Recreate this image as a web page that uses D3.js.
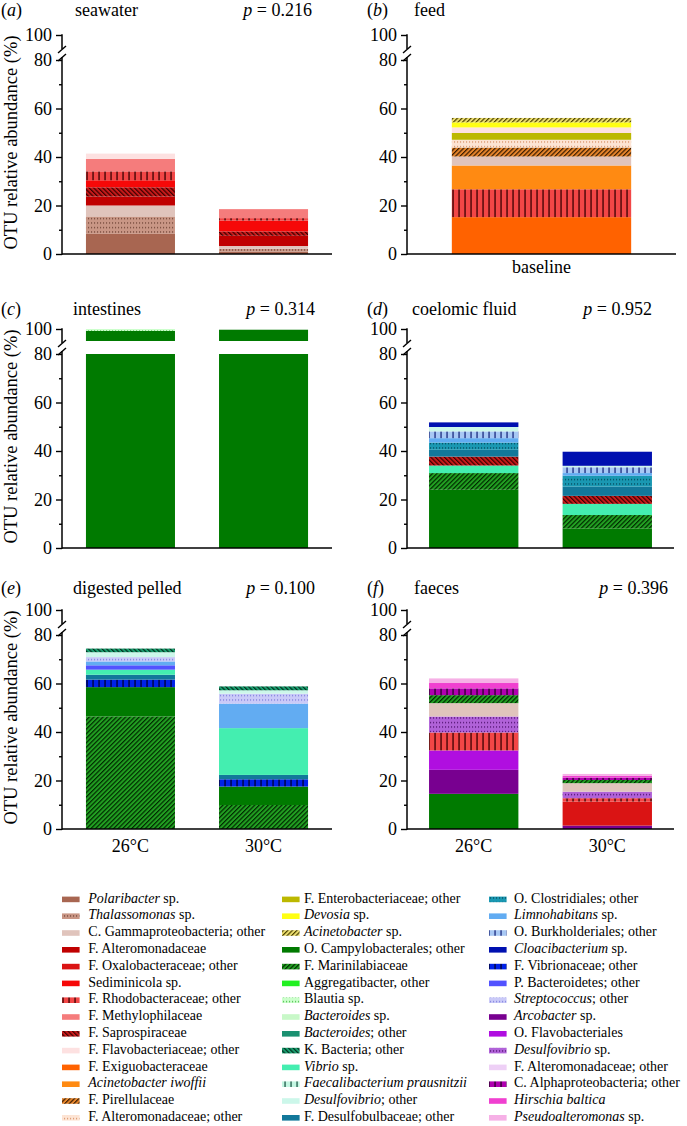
<!DOCTYPE html>
<html><head><meta charset="utf-8">
<script src="https://cdn.jsdelivr.net/npm/d3@7"></script>
<style>
body{margin:0;background:#fff}
svg{display:block}
svg text{font-family:"Liberation Serif","Times New Roman",serif;fill:#000}
</style>
</head><body>
<svg id="c" width="687" height="1126" style="font-family:'Liberation Serif',serif"></svg>
<script>
// ---------------- DATA ----------------
const legendTaxa = [
  "*Polaribacter* sp.", "*Thalassomonas* sp.", "C. Gammaproteobacteria; other", "F. Alteromonadaceae",
  "F. Oxalobacteraceae; other", "Sediminicola sp.", "F. Rhodobacteraceae; other", "F. Methylophilaceae",
  "F. Saprospiraceae", "F. Flavobacteriaceae; other", "F. Exiguobacteraceae", "*Acinetobacter iwoffii*",
  "F. Pirellulaceae", "F. Alteromonadaceae; other",
  "F. Enterobacteriaceae; other", "*Devosia* sp.", "*Acinetobacter* sp.", "O. Campylobacterales; other",
  "F. Marinilabiaceae", "Aggregatibacter, other", "Blautia sp.", "*Bacteroides* sp.",
  "*Bacteroides*; other", "K. Bacteria; other", "*Vibrio* sp.", "*Faecalibacterium prausnitzii*",
  "*Desulfovibrio*; other", "F. Desulfobulbaceae; other",
  "O. Clostridiales; other", "*Limnohabitans* sp.", "O. Burkholderiales; other", "*Cloacibacterium* sp.",
  "F. Vibrionaceae; other", "P. Bacteroidetes; other", "*Streptococcus*; other", "*Arcobacter* sp.",
  "O. Flavobacteriales", "*Desulfovibrio* sp.", "F. Alteromonadaceae; other", "C. Alphaproteobacteria; other",
  "*Hirschia baltica*", "*Pseudoalteromonas* sp."
];

const panelLetters = ["a", "b", "c", "d", "e", "f"];
const panelTitles = ["seawater", "feed", "intestines", "coelomic fluid", "digested pelled", "faeces"];
const pValues = ["0.216", null, "0.314", "0.952", "0.100", "0.396"];
const tempCategories = ["26°C", "30°C"];
const feedCategories = ["baseline"];
const majorTicks = [0, 20, 40, 60, 80];
const minorTicks = [10, 30, 50, 70];
const topTicks = [100];
const yAxisTitle = "OTU relative abundance (%)";

// stacks, bottom -> top
const seawaterTaxa = ["Polaribacter sp.", "Thalassomonas sp.", "C. Gammaproteobacteria; other", "F. Alteromonadaceae",
  "F. Saprospiraceae", "Sediminicola sp.", "F. Rhodobacteraceae; other", "F. Methylophilaceae", "F. Flavobacteriaceae; other"];
const seawater26 = [8.3, 7.2, 4.5, 3.7, 3.8, 2.9, 3.7, 5.1, 2.2];
const seawater30 = [1.0, 1.2, 1.1, 4.2, 1.8, 4.5, 1.0, 3.7, 0.0];

const feedTaxa = ["F. Exiguobacteraceae", "F. Rhodobacteraceae; other", "Acinetobacter iwoffii", "C. Gammaproteobacteria; other",
  "F. Pirellulaceae", "F. Alteromonadaceae; other", "F. Enterobacteriaceae; other", "F. Flavobacteriaceae; other",
  "Devosia sp.", "Acinetobacter sp."];
const feedBaseline = [15.2, 11.5, 9.8, 3.7, 3.7, 3.2, 2.8, 2.3, 2.1, 1.8];

const intestinesTaxa = ["O. Campylobacterales; other", "Blautia sp."];
const intestines26 = [99.2, 0.8];
const intestines30 = [99.7, 0.0];

const coelomicTaxa = ["O. Campylobacterales; other", "F. Marinilabiaceae", "Vibrio sp.", "F. Saprospiraceae",
  "F. Desulfobulbaceae; other", "O. Clostridiales; other", "Limnohabitans sp.", "O. Burkholderiales; other",
  "Desulfovibrio; other", "Cloacibacterium sp."];
const coelomic26 = [24.0, 6.9, 3.1, 3.7, 2.8, 3.0, 1.8, 2.8, 1.8, 1.9];
const coelomic30 = [8.1, 5.5, 4.6, 3.3, 3.8, 4.5, 1.1, 2.4, 0.6, 5.8];

const digestedTaxa = ["F. Marinilabiaceae", "O. Campylobacterales; other", "F. Vibrionaceae; other", "F. Desulfobulbaceae; other",
  "Vibrio sp.", "P. Bacteroidetes; other", "Limnohabitans sp.", "Streptococcus; other", "Desulfovibrio; other", "K. Bacteria; other"];
const digested26 = [46.4, 12.1, 3.1, 2.0, 2.1, 1.8, 1.6, 1.8, 2.0, 1.5];
const digested30 = [9.9, 7.6, 3.0, 1.8, 19.3, 0.0, 10.1, 4.1, 1.4, 1.6];

const faecesTaxa = ["O. Campylobacterales; other", "Arcobacter sp.", "F. Oxalobacteraceae; other", "O. Flavobacteriales",
  "F. Rhodobacteraceae; other", "Desulfovibrio sp.", "C. Gammaproteobacteria; other", "F. Marinilabiaceae",
  "C. Alphaproteobacteria; other", "Hirschia baltica", "Pseudoalteromonas sp."];
const faeces26 = [14.5, 9.9, 0.0, 8.0, 7.4, 6.6, 5.5, 3.3, 2.8, 2.2, 1.9];
const faeces30 = [0.0, 1.4, 9.9, 0.0, 1.4, 2.7, 3.5, 1.3, 1.0, 0.7, 0.8];

// ---------------- STYLES (parallel to legendTaxa) ----------------
const taxonStyles = [
  {bg:"#a86651"}, {bg:"#c99685", pat:"dots", ink:"#5e3426"}, {bg:"#e0c4bc"}, {bg:"#c00000"},
  {bg:"#da1414"}, {bg:"#f60808"}, {bg:"#f24646", pat:"vlines", ink:"#3a0000"}, {bg:"#f57c7c"},
  {bg:"#c81a1a", pat:"back", ink:"#3a0000"}, {bg:"#fde1e1"}, {bg:"#ff6200"}, {bg:"#ff8a12"},
  {bg:"#e8862c", pat:"fwd", ink:"#3a1c00"}, {bg:"#fde4d4", pat:"dots", ink:"#d08050"},
  {bg:"#bcb800"}, {bg:"#ffff14"}, {bg:"#eee070", pat:"fwd", ink:"#4a4000"}, {bg:"#007a00"},
  {bg:"#22a022", pat:"fwd", ink:"#002a00"}, {bg:"#22f022"}, {bg:"#ccffcc", pat:"dots", ink:"#30b030"}, {bg:"#c8f8c8"},
  {bg:"#1a9070"}, {bg:"#1aa070", pat:"back", ink:"#00301e"}, {bg:"#44eeb0"}, {bg:"#c4f6e2", pat:"vlines", ink:"#1e5a48"},
  {bg:"#ccf7ea"}, {bg:"#12789a"},
  {bg:"#1a98b2", pat:"dots", ink:"#00384a"}, {bg:"#62acf2"}, {bg:"#a8c8f4", pat:"vlines", ink:"#1a2a80"}, {bg:"#0010b0"},
  {bg:"#0022e8", pat:"vlines", ink:"#000030"}, {bg:"#5252ff"}, {bg:"#cacaf8", pat:"dots", ink:"#7070d8"}, {bg:"#780090"},
  {bg:"#b00ee0"}, {bg:"#b062d8", pat:"dots", ink:"#3a0058"}, {bg:"#eed0f6"}, {bg:"#b000b0", pat:"vlines", ink:"#2a002a"},
  {bg:"#f040d0"}, {bg:"#f6b0e6"}
];

// ---------------- LAYOUT ----------------
const SERIF = "Liberation Serif";
const svg = d3.select("#c");
const defs = svg.append("defs");
const plain = s => s.replace(/\*/g, "");
const plainLabels = legendTaxa.map(plain);
const idxOf = name => plainLabels.indexOf(name);
const txt = (parent) => parent.append("text").attr("font-family", SERIF).style("font-family", "'Liberation Serif', serif");

taxonStyles.forEach((s, i) => {
  if (!s.pat) return;
  let p;
  if (s.pat === "dots") {
    p = defs.append("pattern").attr("id", "pat" + i).attr("patternUnits", "userSpaceOnUse")
      .attr("width", 3).attr("height", 4.5);
    p.append("rect").attr("width", 3).attr("height", 4.5).attr("fill", s.bg);
    p.append("rect").attr("x", 1).attr("y", 2).attr("width", 1.1).attr("height", 1.1).attr("fill", s.ink);
  } else if (s.pat === "vlines") {
    p = defs.append("pattern").attr("id", "pat" + i).attr("patternUnits", "userSpaceOnUse")
      .attr("width", 6).attr("height", 10);
    p.append("rect").attr("width", 6).attr("height", 10).attr("fill", s.bg);
    p.append("rect").attr("x", 2.4).attr("y", 0).attr("width", 1.3).attr("height", 10).attr("fill", s.ink);
  } else {
    p = defs.append("pattern").attr("id", "pat" + i).attr("patternUnits", "userSpaceOnUse")
      .attr("width", 3.2).attr("height", 10)
      .attr("patternTransform", s.pat === "fwd" ? "rotate(45)" : "rotate(-45)");
    p.append("rect").attr("width", 3.2).attr("height", 10).attr("fill", s.bg);
    p.append("rect").attr("x", 0).attr("y", 0).attr("width", 1.2).attr("height", 10).attr("fill", s.ink);
  }
});
const fillOf = i => taxonStyles[i].pat ? `url(#pat${i})` : taxonStyles[i].bg;

const panels = [
  {taxa: seawaterTaxa, values: [seawater26, seawater30], cats: tempCategories, ax: 62, xEnd: 332, y0: 254,
   pInner: 0.331, pOuter: 0.18, showCats: false, yTitle: true, titleY: 15.5, letterX: 1, titleX: 75, pX: 312},
  {taxa: feedTaxa, values: [feedBaseline], cats: feedCategories, ax: 407, xEnd: 676, y0: 254,
   pInner: 0, pOuter: 0.25, showCats: true, catDy: 19, yTitle: false, titleY: 15.5, letterX: 367, titleX: 414, pX: null},
  {taxa: intestinesTaxa, values: [intestines26, intestines30], cats: tempCategories, ax: 62, xEnd: 332, y0: 548,
   pInner: 0.331, pOuter: 0.18, showCats: false, yTitle: true, titleY: 315, letterX: 1, titleX: 73, pX: 315},
  {taxa: coelomicTaxa, values: [coelomic26, coelomic30], cats: tempCategories, ax: 407, xEnd: 674, y0: 548,
   pInner: 0.331, pOuter: 0.165, showCats: false, yTitle: false, titleY: 315, letterX: 367, titleX: 412, pX: 652},
  {taxa: digestedTaxa, values: [digested26, digested30], cats: tempCategories, ax: 62, xEnd: 332, y0: 829,
   pInner: 0.331, pOuter: 0.18, showCats: true, catDy: 23, yTitle: true, titleY: 594, letterX: 1, titleX: 73, pX: 315},
  {taxa: faecesTaxa, values: [faeces26, faeces30], cats: tempCategories, ax: 407, xEnd: 674, y0: 829,
   pInner: 0.331, pOuter: 0.165, showCats: true, catDy: 23, yTitle: false, titleY: 594, letterX: 367, titleX: 414, pX: 668}
];

const LOWER_H = 194, GAP = 13, TOP_H = 12;

panels.forEach((P, pi) => {
  const g = svg.append("g");
  const y80 = P.y0 - LOWER_H;
  const lower = d3.scaleLinear().domain([0, 80]).range([P.y0, y80]);
  const upper = d3.scaleLinear().domain([95, 100]).range([y80 - GAP, y80 - GAP - TOP_H]);
  const x = d3.scaleBand().domain(P.cats).range([P.ax, P.xEnd]).paddingInner(P.pInner).paddingOuter(P.pOuter);

  // stacked data
  const keys = P.taxa.map(String);
  const rows = P.cats.map((c, ci) => {
    const r = {cat: c};
    P.taxa.forEach((t, ti) => r[t] = P.values[ci][ti]);
    return r;
  });
  const series = d3.stack().keys(keys)(rows);
  series.forEach(s => {
    const ti = idxOf(s.key);
    s.forEach(d => {
      const a = d[0], b = d[1];
      if (b - a <= 0) return;
      const bx = x(d.data.cat), bw = x.bandwidth();
      if (a < 80) {
        const yt = lower(Math.min(b, 80)), yb = lower(Math.max(a, 0));
        g.append("rect").attr("x", bx).attr("y", yt).attr("width", bw).attr("height", yb - yt).attr("fill", fillOf(ti));
      }
      if (b > 95) {
        const yt = upper(Math.min(b, 100)), yb = upper(Math.max(a, 95));
        g.append("rect").attr("x", bx).attr("y", yt).attr("width", bw).attr("height", yb - yt).attr("fill", fillOf(ti));
      }
    });
  });

  // y axes
  const styleAxis = sel => {
    sel.attr("font-family", SERIF).attr("font-size", 18);
    sel.select(".domain").remove();
    sel.selectAll(".tick line").attr("stroke", "#000").attr("stroke-width", 1.4);
    sel.selectAll(".tick text").attr("fill", "#000").style("font-family", "'Liberation Serif', serif");
  };
  const fmt = d3.format("d");
  g.append("g").attr("transform", `translate(${P.ax},0)`)
    .call(d3.axisLeft(lower).tickValues(majorTicks).tickFormat(fmt).tickSize(6).tickPadding(4).tickSizeOuter(0)).call(styleAxis);
  g.append("g").attr("transform", `translate(${P.ax},0)`)
    .call(d3.axisLeft(lower).tickValues(minorTicks).tickSize(3).tickFormat("").tickSizeOuter(0)).call(styleAxis);
  g.append("g").attr("transform", `translate(${P.ax},0)`)
    .call(d3.axisLeft(upper).tickValues(topTicks).tickFormat(fmt).tickSize(6).tickPadding(4).tickSizeOuter(0)).call(styleAxis);

  const y95 = upper(95), y100 = upper(100);
  const ln = (x1, y1, x2, y2, w) => g.append("line").attr("x1", x1).attr("y1", y1).attr("x2", x2).attr("y2", y2)
    .attr("stroke", "#000").attr("stroke-width", w || 1.5);
  ln(P.ax, y100 - 0.7, P.ax, y95 + 2);
  ln(P.ax, P.y0 + 0.7, P.ax, y80 - 3);
  ln(P.ax - 4, y95 + 6, P.ax + 4, y95 - 1, 1.4);
  ln(P.ax - 4, y80 + 1, P.ax + 4, y80 - 6, 1.4);
  // x axis
  ln(P.ax, P.y0, P.xEnd, P.y0, 1.5);

  if (P.showCats) {
    P.cats.forEach(c => {
      txt(g).attr("x", x(c) + x.bandwidth() / 2).attr("y", P.y0 + P.catDy)
        .attr("text-anchor", "middle").attr("font-size", 18).text(c);
    });
  }

  // titles
  const t1 = txt(g).attr("x", P.letterX).attr("y", P.titleY).attr("font-size", 18);
  t1.append("tspan").text("(");
  t1.append("tspan").attr("font-style", "italic").text(panelLetters[pi]);
  t1.append("tspan").text(")");
  txt(g).attr("x", P.titleX).attr("y", P.titleY).attr("font-size", 18).text(panelTitles[pi]);
  if (pValues[pi]) {
    const t2 = txt(g).attr("x", P.pX).attr("y", P.titleY).attr("font-size", 18).attr("text-anchor", "end");
    t2.append("tspan").attr("font-style", "italic").text("p");
    t2.append("tspan").text(" = " + pValues[pi]);
  }
  if (P.yTitle) {
    txt(g).attr("transform", `translate(17,${(y100 + P.y0) / 2 - 2}) rotate(-90)`)
      .attr("text-anchor", "middle").attr("font-size", 18.5).text(yAxisTitle);
  }
});

// ---------------- LEGEND ----------------
const colSwatchX = [62, 282, 489], colTextX = [88.3, 304, 514];
const lg = svg.append("g");
legendTaxa.forEach((lab, i) => {
  const col = Math.floor(i / 14), row = i % 14;
  const base = 902.6 + row * 16.8;
  lg.append("rect").attr("x", colSwatchX[col]).attr("y", base - 6).attr("width", 17.6).attr("height", 5.6)
    .attr("fill", fillOf(i));
  const t = txt(lg).attr("x", colTextX[col]).attr("y", base).attr("font-size", 14);
  lab.split(/(\*[^*]+\*)/).filter(s => s.length).forEach(part => {
    if (part.startsWith("*")) t.append("tspan").attr("font-style", "italic").text(part.slice(1, -1));
    else t.append("tspan").text(part);
  });
});
</script>
</body></html>
